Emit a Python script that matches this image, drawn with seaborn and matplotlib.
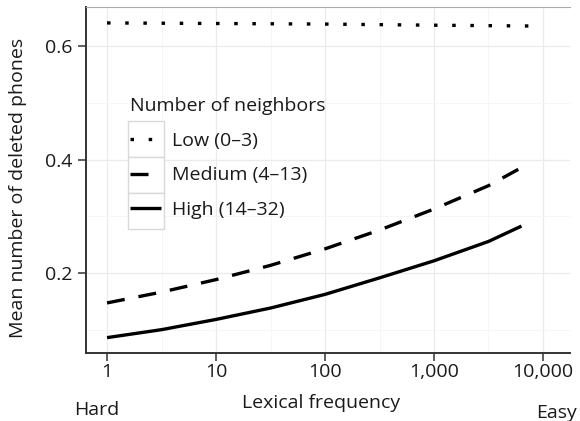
import numpy as np
import pandas as pd
import seaborn as sns
import matplotlib.pyplot as plt
from matplotlib.lines import Line2D
from matplotlib.patches import Rectangle

# values
freq_low = [1, 10, 100, 1000, 9100]
mean_low = [0.640, 0.639, 0.638, 0.636, 0.6345]

freq_med = [1, 3.16, 10, 31.6, 100, 316, 1000, 3162, 7600]
mean_med = [0.148, 0.167, 0.189, 0.214, 0.243, 0.276, 0.313, 0.354, 0.394]

freq_high = [1, 3.16, 10, 31.6, 100, 316, 1000, 3162, 6350]
mean_high = [0.087, 0.101, 0.119, 0.139, 0.163, 0.192, 0.222, 0.256, 0.283]

groups = ['Low (0\u20133)', 'Medium (4\u201313)', 'High (14\u201332)']
x_ticks = [1, 10, 100, 1000, 10000]
x_ticklabels = ['1', '10', '100', '1,000', '10,000']
y_ticks = [0.2, 0.4, 0.6]

df = pd.concat([
    pd.DataFrame({'freq': freq_low, 'mean': mean_low, 'group': groups[0]}),
    pd.DataFrame({'freq': freq_med, 'mean': mean_med, 'group': groups[1]}),
    pd.DataFrame({'freq': freq_high, 'mean': mean_high, 'group': groups[2]}),
], ignore_index=True)

sns.set_style('white')
plt.rcParams['font.family'] = ['Open Sans', 'DejaVu Sans']
FS = 14
TXT = '#1a1a1a'
LW = 2.4

fig = plt.figure(figsize=(5.8, 4.21), dpi=100)
ax = fig.add_axes([86 / 580, 1 - 353 / 421, 484 / 580, 346 / 421])

dash_map = {groups[0]: (1.05, 4.4), groups[1]: (5.4, 4.2), groups[2]: ''}
sns.lineplot(data=df, x='freq', y='mean', style='group', style_order=groups,
             dashes=dash_map, color='black', linewidth=LW, legend=False, ax=ax)
for ln in ax.lines:
    ln.set_dash_capstyle('butt')
    ln.set_solid_capstyle('butt')

ax.set_xscale('log')
ax.set_xlim(0.641, 17700)
ax.set_ylim(0.06, 0.668)
ax.set_xticks(x_ticks)
ax.set_xticklabels(x_ticklabels)
ax.set_xticks([10 ** 0.5, 10 ** 1.5, 10 ** 2.5, 10 ** 3.5], minor=True)
ax.set_yticks(y_ticks)
ax.set_yticklabels(['0.2', '0.4', '0.6'])
ax.set_yticks([0.1, 0.3, 0.5], minor=True)
ax.tick_params(which='minor', length=0)
ax.tick_params(which='major', length=5.5, width=1.1, color='#333333',
               labelsize=FS, labelcolor=TXT, direction='out')
ax.tick_params(axis='x', bottom=True, pad=2)
ax.tick_params(axis='y', left=True, pad=4.5)

ax.grid(True, which='major', color='#ebebeb', linewidth=0.9)
ax.grid(True, which='minor', color='#f5f5f5', linewidth=0.6)
ax.set_axisbelow(True)

for s in ['left', 'bottom']:
    ax.spines[s].set_color('#333333')
    ax.spines[s].set_linewidth(1.4)
ax.spines['top'].set_color('#aaaaaa')
ax.spines['top'].set_linewidth(0.8)
ax.spines['right'].set_visible(False)

ax.set_xlabel('Lexical frequency', fontsize=FS, color=TXT)
ax.xaxis.label.set_va('center')
ax.xaxis.set_label_coords((321 - 86) / 484, (353 - 403) / 346)
ax.set_ylabel('Mean number of deleted phones', fontsize=FS, color=TXT)
ax.yaxis.label.set_va('center')
ax.yaxis.set_label_coords((18.5 - 86) / 484, (353 - 188) / 346)
fig.text(74 / 580, 1 - 410 / 421, 'Hard', fontsize=FS, color=TXT, ha='left', va='center')
fig.text(577 / 580, 1 - 413 / 421, 'Easy', fontsize=FS, color=TXT, ha='right', va='center')

# legend key boxes
for top_px in [121, 157, 193]:
    ax.add_patch(Rectangle((128 / 580, 1 - (top_px + 36) / 421), 36 / 580, 36 / 421,
                           transform=fig.transFigure, facecolor='white',
                           edgecolor='#d9d9d9', linewidth=1.0, zorder=2.5))

handles = [Line2D([], [], color='black', linewidth=LW,
                  linestyle=(0, dash_map[g]) if dash_map[g] else '-',
                  dash_capstyle='butt', solid_capstyle='butt') for g in groups]
leg = ax.legend(handles, groups, title='Number of neighbors', loc='upper left',
                bbox_to_anchor=((130 - 86) / 484, (353 - 97) / 346), frameon=False,
                fontsize=FS, title_fontsize=FS, handlelength=1.6, handletextpad=0.55,
                labelspacing=0.86, borderaxespad=0, borderpad=0)
leg._legend_box.align = 'left'
leg.get_title().set_color(TXT)
for t in leg.get_texts():
    t.set_color(TXT)

fig.savefig('out.png', dpi=100)
